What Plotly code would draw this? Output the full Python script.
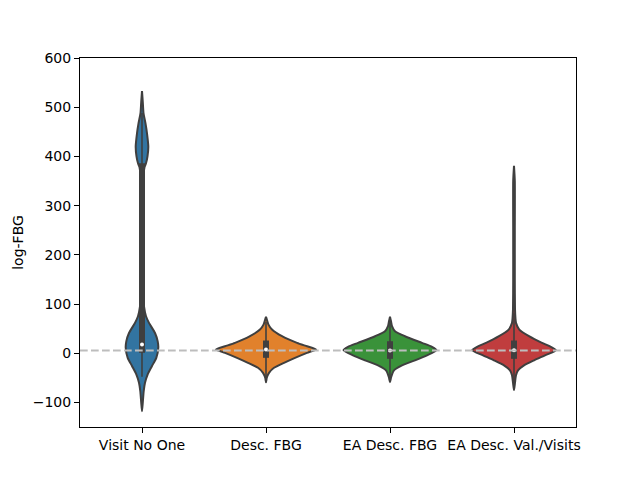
import plotly.graph_objects as go

categories = ["Visit No One", "Desc. FBG", "EA Desc. FBG", "EA Desc. Val./Visits"]
colors = ["#3274a1", "#e1812c", "#3a923a", "#c03d3e"]

# Density profiles: value levels and violin half-width (pixels)
visit_y = [-118, -100, -77, -60, -43, -26, -9.4, 11, 24, 41, 61.6, 75, 95, 120, 200, 300, 360, 378, 386, 400, 420, 447, 467, 488, 510, 533]
visit_w = [0, 0.8, 1.7, 3, 5.7, 10, 14.3, 16.3, 15.7, 13, 7, 4, 2, 1.2, 0.9, 1.0, 1.4, 2.5, 4, 5.5, 6.3, 5, 3.5, 1.5, 0.8, 0]

desc_y = [-59, -50, -40, -29.7, -19.6, -9.4, 0.8, 7.5, 14, 21, 34.5, 48, 58, 66, 74]
desc_w = [0, 0.8, 3, 8, 18, 29, 41, 50, 41, 31, 16, 6, 2.5, 1.2, 0]

ea_y = [-59, -48, -34.8, -24.7, -14.5, -4.4, 6, 13, 21, 34.5, 44.7, 55, 65, 74]
ea_w = [0, 1.2, 4, 12, 25, 37, 46.5, 42, 32, 15, 5, 2, 1, 0]

val_y = [-75, -60, -45, -34.8, -24.7, -14.5, -4.4, 6, 14, 21, 34.5, 48, 61.6, 70, 90, 150, 250, 350, 381]
val_w = [0, 1, 2, 4, 10, 20, 31, 42, 36, 28, 15, 5.3, 2, 1.5, 1.0, 0.8, 0.8, 0.8, 0]

profiles_y = [visit_y, desc_y, ea_y, val_y]
profiles_w = [visit_w, desc_w, ea_w, val_w]

# Inner box statistics
q1 = [0.8, -9.4, -11.4, -11.4]
q3 = [386, 25.8, 24.4, 25.8]
medians = [17.6, 7.5, 5.7, 6]
whisk_lo = [-48, -50, -50, -62]
whisk_hi = [488, 64, 64, 81]

ref_line = 5.7

PX_PER_CAT = 124.0

fig = go.Figure()
for i, cat in enumerate(categories):
    ys = profiles_y[i]
    ws = [w / PX_PER_CAT for w in profiles_w[i]]
    xs = [i + w for w in ws] + [i - w for w in reversed(ws)]
    yy = list(ys) + list(reversed(ys))
    fig.add_trace(go.Scatter(
        x=xs, y=yy, mode="lines", fill="toself", fillcolor=colors[i],
        line=dict(color="#3f3f3f", width=2, shape="spline", smoothing=0.6),
        hoverinfo="skip", showlegend=False))
    # whisker
    fig.add_trace(go.Scatter(
        x=[i, i], y=[whisk_lo[i], whisk_hi[i]], mode="lines",
        line=dict(color="#3f3f3f", width=1.6), showlegend=False, hoverinfo="skip"))
    # box
    fig.add_trace(go.Scatter(
        x=[i, i], y=[q1[i], q3[i]], mode="lines",
        line=dict(color="#3f3f3f", width=6), showlegend=False, hoverinfo="skip"))
    # median
    fig.add_trace(go.Scatter(
        x=[i], y=[medians[i]], mode="markers",
        marker=dict(color="white", size=4, line=dict(width=0)),
        showlegend=False, hoverinfo="skip"))

fig.add_shape(type="line", xref="paper", x0=0, x1=1, yref="y", y0=ref_line, y1=ref_line,
              line=dict(color="#bdbdbd", width=2, dash="7.7px,3.3px"), layer="above")

font = dict(family="DejaVu Sans", size=14, color="black")
fig.update_layout(
    width=640, height=480,
    margin=dict(l=72, r=72, t=50, b=61, autoexpand=False),
    paper_bgcolor="white", plot_bgcolor="white",
    font=font, showlegend=False,
    xaxis=dict(range=[-0.5, 3.5], tickmode="array", tickvals=list(range(4)), ticktext=categories,
               showgrid=False, zeroline=False, showline=True, linecolor="black", linewidth=1,
               mirror=True, ticks="outside", ticklen=5, tickwidth=1, tickcolor="black",
               tickfont=font),
    yaxis=dict(range=[-150, 600], tickmode="array", tickvals=[-100, 0, 100, 200, 300, 400, 500, 600],
               showgrid=False, zeroline=False, showline=True, linecolor="black", linewidth=1,
               mirror=True, ticks="outside", ticklen=5, tickwidth=1, tickcolor="black",
               tickfont=font, title=dict(text="log-FBG", font=font, standoff=5)),
)

fig.write_html("out.html")
